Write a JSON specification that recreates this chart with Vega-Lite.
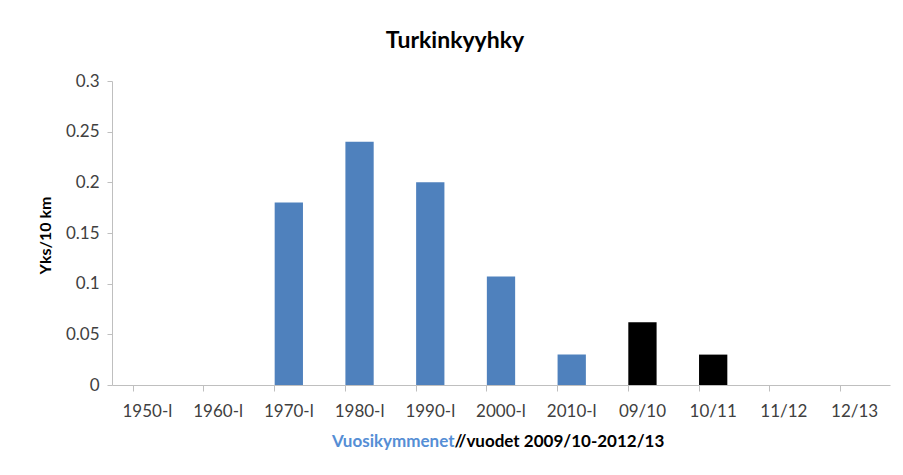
{
  "$schema": "https://vega.github.io/schema/vega-lite/v6.json",
  "autosize": "none",
  "width": 778,
  "height": 304,
  "padding": {"left": 112, "top": 81, "right": 13, "bottom": 90},
  "background": "white",
  "config": {
    "view": {"stroke": null},
    "font": "Lato",
    "axis": {"labelFont": "Lato", "titleFont": "Lato", "grid": false}
  },
  "title": {
    "text": "Turkinkyyhky",
    "font": "Lato",
    "fontSize": 23,
    "fontWeight": "bold",
    "color": "#000000",
    "anchor": "middle",
    "dx": -46,
    "offset": 19
  },
  "data": {
    "values": [
      {"period": "1950-l", "value": 0, "kind": "decade"},
      {"period": "1960-l", "value": 0, "kind": "decade"},
      {"period": "1970-l", "value": 0.18, "kind": "decade"},
      {"period": "1980-l", "value": 0.24, "kind": "decade"},
      {"period": "1990-l", "value": 0.2, "kind": "decade"},
      {"period": "2000-l", "value": 0.107, "kind": "decade"},
      {"period": "2010-l", "value": 0.03, "kind": "decade"},
      {"period": "09/10", "value": 0.062, "kind": "year"},
      {"period": "10/11", "value": 0.03, "kind": "year"},
      {"period": "11/12", "value": 0, "kind": "year"},
      {"period": "12/13", "value": 0, "kind": "year"}
    ]
  },
  "layer": [
    {
      "mark": {"type": "bar"},
      "encoding": {
        "x": {
          "field": "period",
          "type": "nominal",
          "sort": null,
          "scale": {"paddingInner": 0.6, "paddingOuter": 0.3},
          "axis": {
            "orient": "bottom",
            "labelAngle": 0,
            "labelFontSize": 17,
            "labelColor": "#404040",
            "labelPadding": 12,
            "domainColor": "#bfbfbf",
            "tickColor": "#bfbfbf",
            "tickSize": 6,
            "bandPosition": 0,
            "title": "//vuodet 2009/10-2012/13",
            "titleFontSize": 17,
            "titleFontWeight": "bold",
            "titleColor": "#000000",
            "titleX": 342,
            "titleY": 61,
            "titleAlign": "left",
            "titleBaseline": "alphabetic",
            "titleAnchor": null
          }
        },
        "y": {
          "field": "value",
          "type": "quantitative",
          "scale": {"domain": [0, 0.3], "nice": false},
          "axis": {
            "values": [0, 0.05, 0.1, 0.15, 0.2, 0.25, 0.3],
            "format": "~g",
            "labelFontSize": 17,
            "labelColor": "#404040",
            "labelPadding": 8,
            "domainColor": "#bfbfbf",
            "tickColor": "#bfbfbf",
            "tickSize": 5,
            "title": "Yks/10 km",
            "titleFontSize": 16,
            "titleFontWeight": "bold",
            "titleColor": "#000000",
            "titleAngle": -90,
            "titleX": -67,
            "titleY": 154,
            "titleAlign": "center",
            "titleBaseline": "middle"
          }
        },
        "color": {
          "field": "kind",
          "type": "nominal",
          "scale": {"domain": ["decade", "year"], "range": ["#4f81bd", "#000000"]},
          "legend": null
        }
      }
    },
    {
      "mark": {"type": "bar", "opacity": 0},
      "encoding": {
        "x": {
          "field": "period",
          "type": "nominal",
          "sort": null,
          "axis": {
            "orient": "bottom",
            "labels": false,
            "ticks": false,
            "domain": false,
            "title": "Vuosikymmenet",
            "titleFontSize": 17,
            "titleFontWeight": "bold",
            "titleColor": "#558ed5",
            "titleX": 342,
            "titleY": 61,
            "titleAlign": "right",
            "titleBaseline": "alphabetic",
            "titleAnchor": null
          }
        },
        "y": {"field": "value", "type": "quantitative"}
      }
    }
  ],
  "resolve": {"axis": {"x": "independent"}}
}
